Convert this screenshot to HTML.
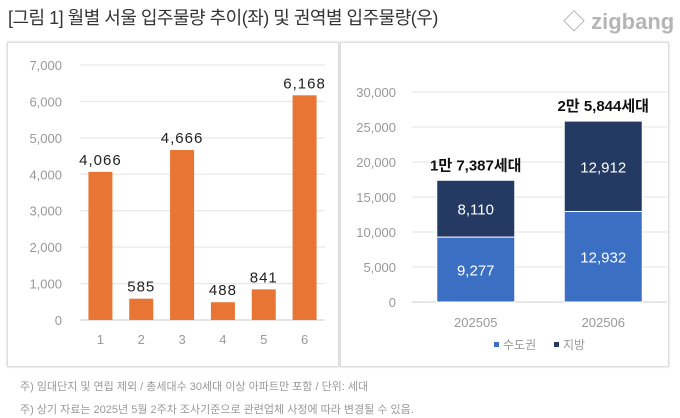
<!DOCTYPE html>
<html><head><meta charset="utf-8"><style>
body{margin:0;width:680px;height:418px;background:#fff;overflow:hidden;font-family:"Liberation Sans","Noto Sans CJK KR",sans-serif;position:relative}
.t{position:absolute;white-space:nowrap}
.panel{position:absolute;border:1px solid #ddd;box-shadow:0 0 2px #ccc;background:#fff}
</style></head><body>
<div class="t" style="left:8px;top:4px;font-size:18px;color:#333;letter-spacing:-0.5px">[그림 1] 월별 서울 입주물량 추이(좌) 및 권역별 입주물량(우)</div>
<div class="t" style="left:563px;top:4px;font-size:22px;color:#b5b5b5;font-weight:bold">◇ zigbang</div>
<div class="panel" style="left:7px;top:42px;width:330px;height:323px"></div>
<div class="panel" style="left:340px;top:42px;width:327px;height:323px"></div>
<svg id="c" width="680" height="418" style="position:absolute;left:0;top:0" font-family="Liberation Sans, Noto Sans CJK KR, sans-serif"></svg>
<div class="t" style="left:20px;top:378px;font-size:11px;color:#999">주) 임대단지 및 연립 제외 / 총세대수 30세대 이상 아파트만 포함 / 단위: 세대</div>
<div class="t" style="left:20px;top:401px;font-size:11px;color:#999">주) 상기 자료는 2025년 5월 2주차 조사기준으로 관련업체 사정에 따라 변경될 수 있음.</div>
<script>
const leftCats=["1","2","3","4","5","6"];
const leftVals=[4066,585,4666,488,841,6168];
const leftTicks=[0,1000,2000,3000,4000,5000,6000,7000];
const rightCats=["202505","202506"];
const metroVals=[9277,12932];
const regionVals=[8110,12912];
const totalLabels=["1만 7,387세대","2만 5,844세대"];
const rightTicks=[0,5000,10000,15000,20000,25000,30000];
const svg=document.getElementById('c');const NS='http://www.w3.org/2000/svg';
function mk(t,a,txt){const e=document.createElementNS(NS,t);for(const k in a)e.setAttribute(k,a[k]);if(txt!==undefined)e.textContent=txt;svg.appendChild(e);return e;}
const fmt=v=>v.toLocaleString('en-US');
// left
const lx0=80,lx1=325,ly0=320,lyTop=65,lmax=7000;
const ly=v=>ly0-(v/lmax)*(ly0-lyTop);
const lbw=(lx1-lx0)/leftCats.length;
leftTicks.forEach(t=>{
 const g=mk('line',{x1:lx0,x2:lx1,y1:ly(t),y2:ly(t),stroke:t===0?'#ccc':'#e3e3e3','stroke-width':1});
 
 const l=mk('text',{x:62,y:ly(t)+5,'text-anchor':'end','font-size':13,fill:'#999'},fmt(t));
 
});
leftCats.forEach((c,i)=>{
 const cx=lx0+lbw*(i+0.5),v=leftVals[i];
 const b=mk('rect',{x:cx-12,y:ly(v),width:24,height:ly0-ly(v),fill:'#e87533'});
 
 const vl=mk('text',{x:cx,y:ly(v)-7,'text-anchor':'middle','font-size':15,fill:'#222','letter-spacing':'1'},fmt(v));
 
 const xl=mk('text',{x:cx,y:344,'text-anchor':'middle','font-size':13,fill:'#999'},c);
 
});
// right
const rx0=412,rx1=667,ry0=302,ryTop=92,rmax=30000;
const ry=v=>ry0-(v/rmax)*(ry0-ryTop);
const rbw=(rx1-rx0)/rightCats.length;
rightTicks.forEach(t=>{
 const g=mk('line',{x1:rx0,x2:rx1,y1:ry(t),y2:ry(t),stroke:t===0?'#ccc':'#e3e3e3','stroke-width':1});
 
 const l=mk('text',{x:396,y:ry(t)+5,'text-anchor':'end','font-size':13,fill:'#999'},fmt(t));
 
});
rightCats.forEach((c,i)=>{
 const cx=rx0+rbw*(i+0.5),m=metroVals[i],r=regionVals[i];
 const b1=mk('rect',{x:cx-39,y:ry(m),width:78,height:ry0-ry(m),fill:'#3a6fc4',stroke:'#fff','stroke-width':1});
 
 const b2=mk('rect',{x:cx-39,y:ry(m+r),width:78,height:ry(m)-ry(m+r),fill:'#243a63',stroke:'#fff','stroke-width':1});
 
 const t1=mk('text',{x:cx,y:(ry(m)+ry0)/2+6,'text-anchor':'middle','font-size':15,fill:'#fff'},fmt(m));
 
 const t2=mk('text',{x:cx,y:(ry(m)+ry(m+r))/2+6,'text-anchor':'middle','font-size':15,fill:'#fff'},fmt(r));
 
 const tt=mk('text',{x:cx,y:ry(m+r)-10,'text-anchor':'middle','font-size':15,'font-weight':'bold',fill:'#111'},totalLabels[i]);
 
 const xl=mk('text',{x:cx,y:327,'text-anchor':'middle','font-size':13,fill:'#999'},c);
 
});
const lg1=mk('rect',{x:494,y:342,width:5,height:5,fill:'#3a6fc4'});

const lt1=mk('text',{x:503,y:349,'font-size':12,fill:'#999'},'수도권');

const lg2=mk('rect',{x:554,y:342,width:5,height:5,fill:'#243a63'});

const lt2=mk('text',{x:563,y:349,'font-size':12,fill:'#999'},'지방');

</script>
</body></html>
